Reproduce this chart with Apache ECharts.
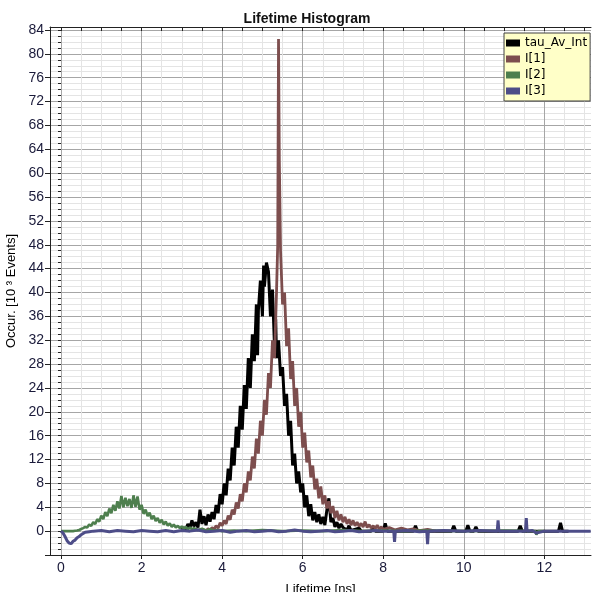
<!DOCTYPE html>
<html>
<head>
<meta charset="utf-8">
<script src="https://cdn.jsdelivr.net/npm/echarts@6/dist/echarts.min.js"></script>
<style>
html,body{margin:0;padding:0;background:#fff;}
#chart{width:592px;height:592px;}
</style>
</head>
<body>
<div id="chart"></div>
<script>
// ---- Data ----
var seriesNames = ['tau_Av_Int', 'I[1]', 'I[2]', 'I[3]'];

var tauT = [3.00,3.05,3.10,3.15,3.20,3.25,3.30,3.35,3.40,3.45,3.50,3.55,3.60,3.65,3.70,3.75,3.80,3.85,3.90,3.95,
  4.00,4.05,4.10,4.15,4.20,4.25,4.30,4.35,4.40,4.45,4.50,4.55,4.60,4.65,4.70,4.75,4.80,4.85,4.88,4.90,4.95,
  5.00,5.03,5.05,5.10,5.15,5.20,5.25,5.30,5.33,5.35,5.40,5.45,5.50,5.55,5.60,5.65,5.70,5.75,5.80,5.85,5.90,5.95,
  6.00,6.05,6.10,6.15,6.20,6.25,6.30,6.35,6.40,6.45,6.50,6.55,6.60,6.65,6.70,6.75,6.80,6.85,6.90,6.95,7.00,
  7.10,7.15,7.20,7.40,7.45,7.70,7.75,7.80,8.00,8.05,8.10,8.75,8.80,8.85,9.70,9.75,9.80,10.05,10.10,10.15,
  10.25,10.30,10.35,11.35,11.40,11.45,12.35,12.40,12.45,12.60];
var tauV = [0.2,0.6,0.3,1.2,0.5,1.8,0.8,1.5,0.6,3.6,1.2,2.5,1.0,2.8,1.6,3.2,2.0,4.4,3.0,6.2,
  4.5,8.0,6.0,10.5,8.5,14.0,11.0,17.5,14.0,21.0,17.0,24.5,20.5,29.0,24.0,33.0,28.5,38.0,29.5,37.0,42.0,
  36.0,44.5,41.0,45.0,43.5,36.0,40.5,31.0,35.5,29.0,32.0,26.0,27.5,21.0,23.0,16.0,18.5,11.0,13.0,8.0,10.0,6.5,
  8.0,4.0,6.0,2.5,4.5,1.8,3.2,1.5,2.8,1.2,2.4,1.0,3.5,5.5,1.5,2.2,0.7,1.5,0.5,1.2,0.6,
  0.2,0.9,0.1,0.5,0.0,0.0,0.6,0.0,0.0,1.3,0.0,0.0,0.9,0.0,0.0,0.9,0.0,0.0,1.0,0.0,
  0.0,0.7,0.0,0.0,0.9,0.0,0.0,1.4,0.0,0.0];

var i1T = [3.50,3.55,3.60,3.65,3.70,3.75,3.80,3.85,3.90,3.95,4.00,4.05,4.10,4.15,4.20,4.25,4.30,4.35,4.40,4.45,
  4.50,4.55,4.60,4.65,4.70,4.75,4.80,4.85,4.90,4.95,5.00,5.05,5.10,5.15,5.20,5.25,5.30,5.35,5.38,5.40,5.42,5.45,
  5.50,5.55,5.60,5.65,5.70,5.75,5.80,5.85,5.90,5.95,6.00,6.05,6.10,6.15,6.20,6.25,6.30,6.35,6.40,6.45,
  6.50,6.55,6.60,6.65,6.70,6.75,6.80,6.85,6.90,6.95,7.00,7.05,7.10,7.15,7.20,7.25,7.30,7.35,7.40,7.45,
  7.50,7.55,7.60,7.65,7.70,7.75,7.80,7.85,7.90,7.95,8.00,8.15,8.30,8.45,8.60,8.75,8.90,9.10,9.30];
var i1V = [0.0,0.2,0.0,0.4,0.2,0.6,0.3,0.9,0.5,1.4,0.9,1.8,1.2,2.6,1.9,3.6,2.8,4.8,3.8,6.2,
  5.0,8.0,6.5,10.0,8.5,12.5,10.5,15.5,13.0,18.5,16.0,22.0,19.5,26.5,24.0,32.0,29.0,40.0,48.0,82.5,62.0,47.0,
  38.0,40.0,31.0,34.0,25.5,28.5,21.0,24.0,17.5,20.0,14.0,16.5,11.5,13.5,9.0,11.0,7.0,8.8,5.5,7.5,
  4.5,6.0,3.8,5.0,3.0,4.2,2.2,3.4,1.8,2.8,1.5,2.4,1.2,2.0,1.0,1.8,0.9,1.5,0.8,1.3,
  0.7,1.6,0.6,1.1,0.5,0.9,0.4,1.0,0.3,0.7,0.3,0.6,0.2,0.5,0.2,0.4,0.1,0.3,0.0];

var i2T = [0.00,0.05,0.10,0.15,0.20,0.25,0.30,0.35,0.40,0.45,0.50,0.55,0.60,0.65,0.70,0.75,0.80,0.85,0.90,0.95,
  1.00,1.05,1.10,1.15,1.20,1.25,1.30,1.35,1.40,1.45,1.50,1.55,1.60,1.65,1.70,1.75,1.80,1.85,1.90,1.95,
  2.00,2.05,2.10,2.15,2.20,2.25,2.30,2.35,2.40,2.45,2.50,2.55,2.60,2.65,2.70,2.75,2.80,2.85,2.90,2.95,
  3.00,3.05,3.10,3.15,3.20,3.25,3.30,3.40,3.50,3.60,3.70,3.80,3.90,4.00,
  4.30,4.60,5.00,5.50,6.00,6.50,7.00,7.50,8.00,8.50,9.00,10.00,11.00,11.78,11.80,11.85,12.00];
var i2V = [0,0,0,0,0,0,0,0.05,0.1,0.2,0.35,0.5,0.7,0.6,1.1,0.9,1.5,1.2,2.0,1.6,
  2.6,2.0,3.2,2.5,3.8,3.0,4.4,3.4,5.0,3.8,5.9,4.0,5.6,4.2,5.4,3.9,6.0,4.1,5.8,3.6,
  4.4,2.9,3.6,2.5,3.1,2.0,2.6,1.7,2.2,1.4,1.9,1.1,1.6,0.9,1.3,0.7,1.1,0.6,0.9,0.5,
  0.8,0.4,0.7,0.3,0.6,0.3,0.5,0.2,0.4,0.1,0.3,0.1,0.2,0.0,
  0.1,0.0,0.2,0.0,0.1,0.0,0.2,0.0,0.1,0.0,0.1,0.0,0.1,0.0,-0.6,0.0,0.0];

var i3T = [0.00,0.05,0.10,0.15,0.20,0.25,0.30,0.35,0.40,0.45,0.50,0.55,0.60,0.70,0.80,
  1.0,1.2,1.4,1.6,1.8,2.0,2.2,2.4,2.6,2.8,3.0,3.2,3.4,3.6,3.8,4.0,4.2,4.4,4.6,4.8,5.0,5.2,5.4,5.6,5.8,
  6.0,6.2,6.4,6.6,6.8,7.0,7.2,7.4,7.6,7.8,8.0,8.26,8.28,8.30,8.6,8.9,9.08,9.10,9.12,9.5,10.0,10.4,
  10.83,10.85,10.87,11.2,11.53,11.55,11.57,11.7,11.8,12.0,12.5,13.0,13.15];
var i3V = [0,-0.3,-0.9,-1.6,-2.0,-2.1,-1.7,-1.5,-1.1,-0.9,-0.6,-0.4,-0.2,-0.1,0.0,
  0.1,-0.1,0.1,0.0,-0.1,0.1,0.0,-0.1,0.1,-0.1,0.1,0.0,0.2,-0.1,0.0,0.1,-0.2,0.0,0.1,-0.1,0.0,0.1,-0.1,0.0,0.2,
  0.0,-0.1,0.0,0.1,-0.1,0.0,0.1,-0.1,0.0,0.1,0.0,0.0,-1.8,0.0,0.1,-0.1,0.0,-2.2,0.0,0.1,0.0,0.1,
  0.0,1.8,0.0,0.0,0.0,2.2,0.0,0.1,-0.3,0.0,0.0,0.0,0.0];

var xTickLabels = [0, 2, 4, 6, 8, 10, 12];
var yTickLabels = [0, 4, 8, 12, 16, 20, 24, 28, 32, 36, 40, 44, 48, 52, 56, 60, 64, 68, 72, 76, 80, 84];

// ---- helpers ----
function pairs(t, v) { var out = []; for (var i = 0; i < t.length; i++) out.push([t[i], v[i]]); return out; }
var xMinor = []; for (var k = 0; k <= 26; k++) xMinor.push(k * 0.5);
var yMajor = [-4].concat(yTickLabels);
var yMinor = []; for (var j = -4; j <= 84; j++) yMinor.push(j);

var colors = ['#000000', '#7d4e4e', '#4e7f4e', '#4d4d88'];
var labelColor = '#1a1a3a';
var majorGrid = '#a6a6a6';
var minorGrid = '#e4e4e4';
var XMIN = -0.273, XMAX = 13.157, YMIN = -4, YMAX = 84.5;

var chart = echarts.init(document.getElementById('chart'), null, {renderer: 'canvas'});
chart.setOption({
  animation: false,
  backgroundColor: '#ffffff',
  color: colors,
  title: {
    text: 'Lifetime Histogram', left: 302, top: 7, textAlign: 'center',
    textStyle: {fontFamily: 'Liberation Sans', fontSize: 14, fontWeight: 'bold', color: '#111'}
  },
  legend: {
    data: seriesNames, orient: 'vertical', left: 504, top: 33,
    backgroundColor: '#ffffc8', borderColor: '#404040', borderWidth: 1,
    padding: [4, 3, 4, 2], itemWidth: 14, itemHeight: 7, itemGap: 4, icon: 'rect',
    textStyle: {fontFamily: 'DejaVu Sans', fontSize: 12, color: '#000'}
  },
  grid: {left: 50, right: 1, top: 27, bottom: 37, containLabel: false, outerBoundsMode: 'none'},
  xAxis: [
    {
      type: 'value', position: 'bottom', min: XMIN, max: XMAX,
      name: 'Lifetime [ns]', nameLocation: 'middle', nameGap: 28,
      nameTextStyle: {fontFamily: 'Liberation Sans', fontSize: 13, color: '#000'},
      axisLine: {show: true, onZero: false, lineStyle: {color: '#222', width: 1}},
      axisTick: {show: true, inside: false, length: 4, customValues: xTickLabels, lineStyle: {color: '#222'}},
      axisLabel: {customValues: xTickLabels, margin: 6, fontFamily: 'Liberation Sans', fontSize: 14, color: labelColor},
      splitLine: {show: true, lineStyle: {color: majorGrid, width: 1}}
    },
    {
      type: 'value', position: 'top', min: XMIN, max: XMAX,
      axisLine: {show: true, onZero: false, lineStyle: {color: '#222', width: 1}},
      axisTick: {show: true, inside: true, length: 4, customValues: xMinor, lineStyle: {color: '#222'}},
      axisLabel: {show: false},
      splitLine: {show: true, lineStyle: {color: ['transparent', minorGrid, minorGrid, minorGrid], width: 1}}
    }
  ],
  yAxis: [
    {
      type: 'value', position: 'left', min: YMIN, max: YMAX,
      name: 'Occur. [10 ³ Events]', nameLocation: 'middle', nameGap: 32, nameMoveOverlap: false,
      nameTextStyle: {fontFamily: 'Liberation Sans', fontSize: 13, color: '#000'},
      axisLine: {show: true, onZero: false, lineStyle: {color: '#222', width: 1}},
      axisTick: {show: true, inside: false, length: 5, customValues: yMajor, lineStyle: {color: '#222'}},
      axisLabel: {customValues: yTickLabels, margin: 6, fontFamily: 'Liberation Sans', fontSize: 14, color: labelColor},
      splitLine: {show: true, lineStyle: {color: majorGrid, width: 1}}
    },
    {
      type: 'value', position: 'left', min: YMIN, max: YMAX,
      axisLine: {show: false},
      axisTick: {show: true, inside: false, length: 3, customValues: yMinor, lineStyle: {color: '#222'}},
      axisLabel: {show: false},
      splitLine: {show: true, lineStyle: {color: ['transparent', minorGrid, minorGrid, minorGrid], width: 1}}
    }
  ],
  series: [
    {name: seriesNames[0], type: 'line', data: pairs(tauT, tauV), showSymbol: false, symbol: 'none',
     lineStyle: {width: 3, color: colors[0]}, itemStyle: {color: colors[0]}, z: 2},
    {name: seriesNames[1], type: 'line', data: pairs(i1T, i1V), showSymbol: false, symbol: 'none',
     lineStyle: {width: 2.8, color: colors[1]}, itemStyle: {color: colors[1]}, z: 3},
    {name: seriesNames[2], type: 'line', data: pairs(i2T, i2V), showSymbol: false, symbol: 'none',
     lineStyle: {width: 2.6, color: colors[2]}, itemStyle: {color: colors[2]}, z: 4},
    {name: seriesNames[3], type: 'line', data: pairs(i3T, i3V), showSymbol: false, symbol: 'none',
     lineStyle: {width: 3, color: colors[3]}, itemStyle: {color: colors[3]}, z: 5}
  ]
});
</script>
</body>
</html>
